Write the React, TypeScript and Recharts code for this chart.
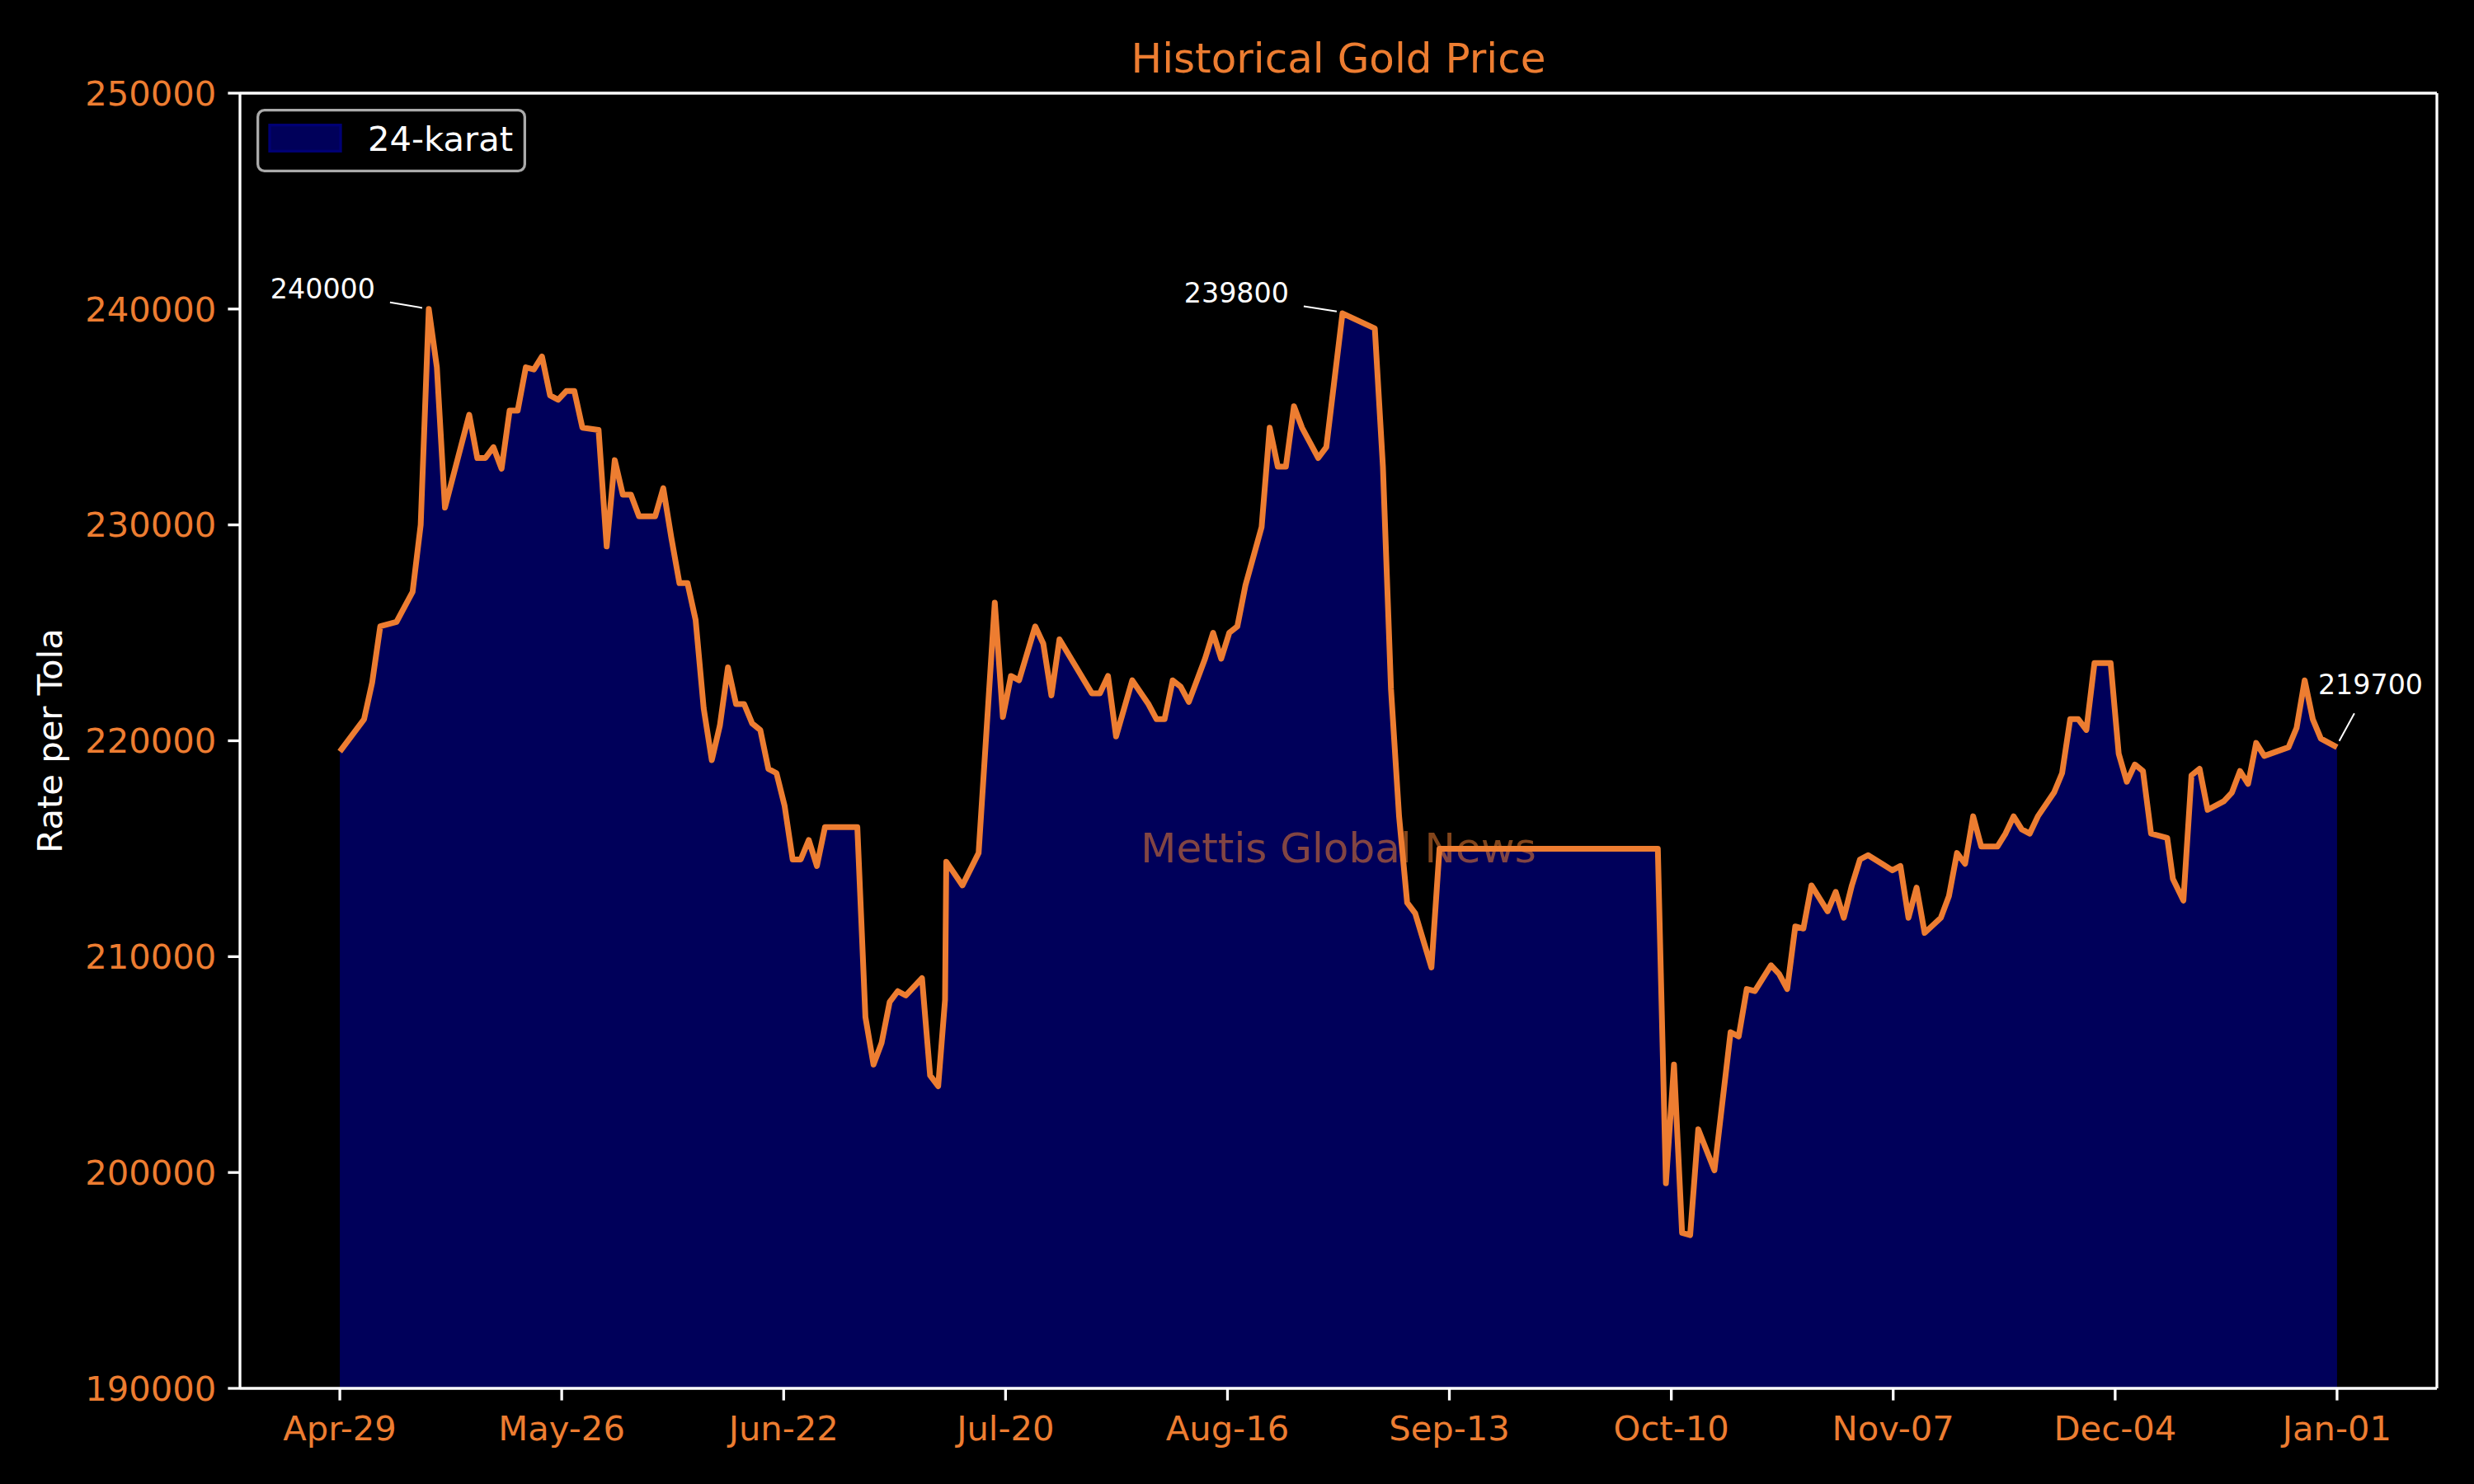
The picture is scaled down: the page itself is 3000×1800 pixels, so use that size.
import React from "react";
import { AreaChart, Area, XAxis, YAxis, Legend, ReferenceDot, Label } from "recharts";

const ORANGE = "#ED7D31";
const NAVY_FILL = "#00005a";
const NAVY_EDGE = "#000074";
const WHITE = "#ffffff";
const FONT = "'DejaVu Sans', Verdana, sans-serif";

const title = "Historical Gold Price";
const yLabel = "Rate per Tola";
const seriesName = "24-karat";
const watermark = "Mettis Global News";
const watermarkRate = 215000;

// days since Apr-29
const days = [
  0, 3, 4, 5, 7, 9, 10, 11, 12, 13, 16, 17, 18, 19, 20, 21, 22, 23, 24, 25, 26, 27, 28, 29, 30, 32, 33, 34, 35, 36, 37, 39, 40, 41, 42, 43, 44, 45, 46, 47, 48, 49, 50, 51, 52, 53, 54, 55,
  56, 57, 58, 59, 60, 64, 65, 66, 67, 68, 69, 70, 72, 73, 74, 74.85, 75, 77, 79, 81, 82, 83, 84, 86, 87, 88, 89, 93, 94, 95, 96, 98, 100, 101, 102, 103, 104, 105, 106, 107, 108, 109, 110, 111, 112,
  114, 115, 116, 117, 118, 119, 121, 122, 123, 124, 128, 129, 130, 131, 132, 133, 135, 136, 163,
  164, 165, 166, 167, 168, 170, 172, 173, 174, 175, 177, 178, 179, 180, 181, 182, 184, 185, 186, 187, 188, 189, 192, 193, 194, 195, 196, 198, 199, 200, 201, 202, 203, 205, 206, 207, 208, 209, 210,
  212, 213, 214, 215, 216, 217, 219, 220, 221, 222, 223, 224, 226, 226.7, 228, 229, 230, 231, 233, 234, 235, 236, 237, 238, 241, 242, 243, 244, 245, 247,
];

const rates = [
  219500, 221000, 222700, 225300, 225500, 226900, 230000, 240000, 237300, 230800, 235100, 233100, 233100, 233600, 232600, 235300, 235300, 237300, 237200, 237800, 236000, 235800, 236200, 236200, 234500, 234400, 229000, 233000, 231400, 231400, 230400, 230400, 231700, 229400, 227300, 227300, 225600, 221500, 219100, 220700, 223400, 221700, 221700, 220800, 220500, 218700, 218500, 217000,
  214500, 214500, 215400, 214200, 216000, 216000, 207200, 205000, 206000, 207900, 208400, 208200, 209000, 204500, 204000, 208000, 214400, 213300, 214800, 226400, 221100, 223000, 222800, 225300, 224500, 222100, 224700, 222200, 222200, 223000, 220200, 222800, 221700, 221000, 221000, 222800, 222500, 221800, 222800, 223800, 225000, 223800, 225000, 225300, 227200,
  229900, 234500, 232700, 232700, 235500, 234500, 233100, 233600, 236700, 239800, 239100, 232700, 222400, 216500, 212500, 212000, 209500, 215000, 215000,
  199500, 205000, 197200, 197100, 202000, 200100, 206500, 206300, 208500, 208400, 209600, 209200, 208500, 211400, 211300, 213300, 212100, 213000, 211800, 213300, 214500, 214700, 214000, 214200, 211800, 213200, 211100, 211800, 212800, 214800, 214300, 216500, 215100, 215100, 215700, 216500, 215900, 215700, 216500,
  217600, 218500, 221000, 221000, 220500, 223600, 223600, 219400, 218100, 218900, 218600, 215700, 215500, 213600, 212600, 218400, 218700, 216800, 217200, 217600, 218600, 218000, 219900, 219300, 219700, 220600, 222800, 221000, 220100, 219700,
];

const xTickDays = [0, 27.44, 54.89, 82.33, 109.78, 137.22, 164.67, 192.11, 219.56, 247];
const xTickLabels = ["Apr-29", "May-26", "Jun-22", "Jul-20", "Aug-16", "Sep-13", "Oct-10", "Nov-07", "Dec-04", "Jan-01"];
const yTicks = [190000, 200000, 210000, 220000, 230000, 240000, 250000];

const annotatedDays = [11, 124, 247];
// offsets of annotation text / leader line relative to the annotated point (pixels)
const annotationLayout = [
  { tx: -65, ty: -13, anchor: "end", l1: [-47, -8], l2: [-8, -1.4] },
  { tx: -65, ty: -13, anchor: "end", l1: [-47, -8.5], l2: [-7, -2.4] },
  { tx: -23, ty: -64, anchor: "start", l1: [21, -41], l2: [2.7, -7.7] },
];

const data = days.map((day, i) => ({ day, rate: rates[i] }));
const xPad = (days[days.length - 1] - days[0]) * 0.05;
const xDomain = [days[0] - xPad, days[days.length - 1] + xPad];
const xMid = (days[0] + days[days.length - 1]) / 2;
const yDomain = [yTicks[0], yTicks[yTicks.length - 1]];

const TICK_FONT = 41.7;

function LegendBox() {
  return (
    <svg width={327} height={77} style={{ display: "block" }}>
      <rect x={1.65} y={1.65} width={323.7} height={73.7} rx={8} ry={8} fill="#000" stroke="#aaaaaa" strokeWidth={3.3} />
      <rect x={16} y={19.7} width={86} height={31.6} fill={NAVY_FILL} stroke={NAVY_EDGE} strokeWidth={3.3} />
      <text x={135} y={51.3} fill={WHITE} fontSize={TICK_FONT} fontFamily={FONT}>
        {seriesName}
      </text>
    </svg>
  );
}

export default function App() {
  return (
    <div style={{ position: "absolute", left: 0, top: 0, width: 3000, height: 1800, background: "#000" }}>
      <AreaChart
        width={3000}
        height={1800}
        data={data}
        margin={{ top: 112, right: 44, bottom: 0, left: 0 }}
        style={{ fontFamily: FONT, background: "#000" }}
      >
        <Area
          dataKey="rate"
          name={seriesName}
          type="linear"
          stroke={ORANGE}
          strokeWidth={7}
          strokeLinejoin="round"
          fill={NAVY_FILL}
          fillOpacity={1}
          baseValue={yDomain[0]}
          dot={false}
          activeDot={false}
          isAnimationActive={false}
        />
        <XAxis
          dataKey="day"
          type="number"
          domain={xDomain}
          allowDataOverflow
          ticks={xTickDays}
          interval={0}
          tickFormatter={(v) => xTickLabels[xTickDays.indexOf(v)] ?? ""}
          height={116}
          tickSize={14.6}
          tickMargin={18.3}
          tick={{ fill: ORANGE, fontSize: TICK_FONT, fontFamily: FONT }}
          tickLine={{ stroke: WHITE, strokeWidth: 3.3 }}
          axisLine={{ stroke: WHITE, strokeWidth: 3.3 }}
        />
        <XAxis
          xAxisId="top"
          orientation="top"
          dataKey="day"
          type="number"
          domain={xDomain}
          allowDataOverflow
          height={1}
          tick={false}
          tickLine={false}
          axisLine={{ stroke: WHITE, strokeWidth: 3.3 }}
        >
          <Label
            content={(p: any) => {
              const vb = p.viewBox || {};
              return (
                <text
                  x={vb.x + vb.width / 2}
                  y={vb.y + vb.height - 24.7}
                  textAnchor="middle"
                  fill={ORANGE}
                  fontSize={50}
                  fontFamily={FONT}
                >
                  {title}
                </text>
              );
            }}
          />
        </XAxis>
        <YAxis
          type="number"
          domain={yDomain}
          allowDataOverflow
          ticks={yTicks}
          interval={0}
          width={291}
          tickSize={14.6}
          tickMargin={14}
          tick={{ fill: ORANGE, fontSize: TICK_FONT, fontFamily: FONT }}
          tickLine={{ stroke: WHITE, strokeWidth: 3.3 }}
          axisLine={{ stroke: WHITE, strokeWidth: 3.3 }}
        >
          <Label
            content={(p: any) => {
              const vb = p.viewBox || {};
              const cx = vb.x + 75;
              const cy = vb.y + vb.height / 2;
              return (
                <text
                  x={cx}
                  y={cy}
                  textAnchor="middle"
                  transform={`rotate(-90, ${cx}, ${cy})`}
                  fill={WHITE}
                  fontSize={TICK_FONT}
                  fontFamily={FONT}
                >
                  {yLabel}
                </text>
              );
            }}
          />
        </YAxis>
        <YAxis
          yAxisId="right"
          orientation="right"
          type="number"
          domain={yDomain}
          allowDataOverflow
          width={1}
          tick={false}
          tickLine={false}
          axisLine={{ stroke: WHITE, strokeWidth: 3.3 }}
        />
        <ReferenceDot
          x={xMid}
          y={watermarkRate}
          r={0}
          fill="none"
          stroke="none"
          label={(p: any) => {
            const vb = p.viewBox || {};
            return (
              <text
                x={vb.x}
                y={vb.y + 17}
                textAnchor="middle"
                fill={ORANGE}
                fillOpacity={0.55}
                fontSize={50}
                fontFamily={FONT}
              >
                {watermark}
              </text>
            );
          }}
        />
        {annotatedDays.map((d, k) => {
          const rate = rates[days.indexOf(d)];
          const o = annotationLayout[k];
          return (
            <ReferenceDot
              key={d}
              x={d}
              y={rate}
              r={0}
              fill="none"
              stroke="none"
              label={(p: any) => {
                const vb = p.viewBox || {};
                const x = vb.x;
                const y = vb.y;
                return (
                  <g>
                    <line
                      x1={x + o.l1[0]}
                      y1={y + o.l1[1]}
                      x2={x + o.l2[0]}
                      y2={y + o.l2[1]}
                      stroke={WHITE}
                      strokeWidth={2}
                    />
                    <text
                      x={x + o.tx}
                      y={y + o.ty}
                      textAnchor={o.anchor as any}
                      fill={WHITE}
                      fontSize={33.3}
                      fontFamily={FONT}
                    >
                      {String(rate)}
                    </text>
                  </g>
                );
              }}
            />
          );
        })}
        <Legend
          layout="horizontal"
          verticalAlign="middle"
          align="center"
          width={327}
          height={77}
          wrapperStyle={{ left: 311, top: 132, width: 327, height: 77 }}
          content={() => <LegendBox />}
        />
      </AreaChart>
    </div>
  );
}
